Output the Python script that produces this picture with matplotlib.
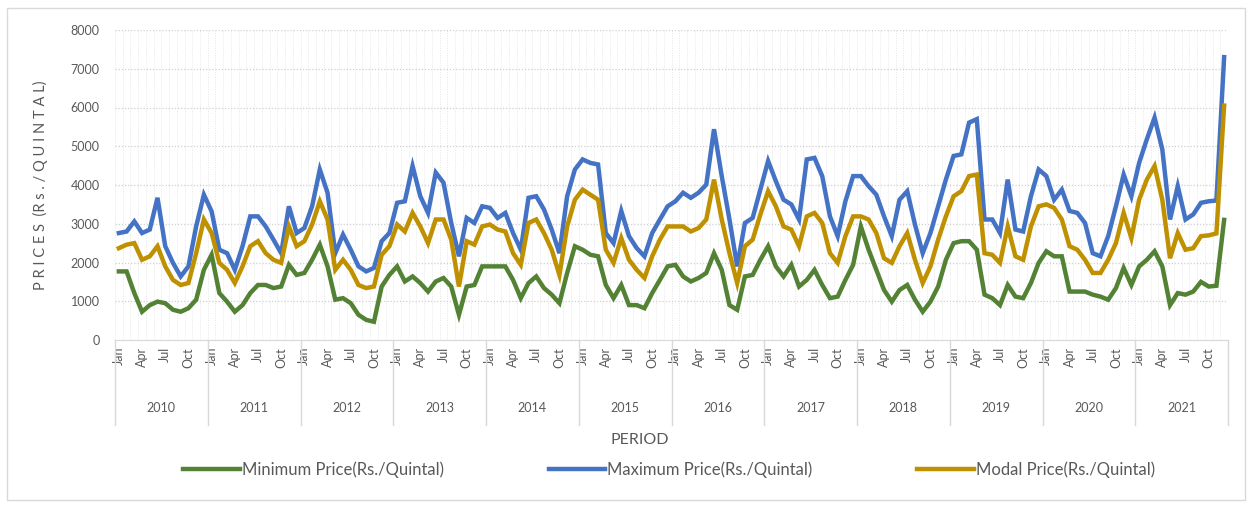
import numpy as np
import matplotlib
matplotlib.use("Agg")
import matplotlib.pyplot as plt
from matplotlib.patches import Rectangle
from matplotlib.lines import Line2D

plt.rcParams['font.family'] = ['Lato', 'DejaVu Sans']

years = ['2010', '2011', '2012', '2013', '2014', '2015',
         '2016', '2017', '2018', '2019', '2020', '2021']
months = ['Jan', 'Feb', 'Mar', 'Apr', 'May', 'Jun',
          'Jul', 'Aug', 'Sep', 'Oct', 'Nov', 'Dec']

# monthly prices, Jan 2010 .. Dec 2021 (Rs./Quintal)
min_price = [
    1770, 1770, 1210, 730, 900, 990, 950, 780, 730, 820, 1040, 1810,
    2200, 1210, 990, 730, 900, 1210, 1420, 1420, 1340, 1380, 1940, 1680,
    1730, 2070, 2460, 1900, 1040, 1080, 950, 650, 520, 470, 1380, 1680,
    1900, 1510, 1640, 1470, 1250, 1510, 1600, 1380, 650, 1380, 1420, 1900,
    1900, 1900, 1900, 1550, 1080, 1470, 1640, 1340, 1170, 950, 1730, 2420,
    2330, 2200, 2160, 1420, 1080, 1420, 900, 900, 820, 1210, 1550, 1900,
    1940, 1640, 1510, 1600, 1730, 2240, 1810, 900, 780, 1640, 1680, 2070,
    2420, 1900, 1640, 1940, 1380, 1550, 1810, 1420, 1080, 1120, 1550, 1940,
    2930, 2330, 1810, 1290, 990, 1290, 1420, 1040, 730, 990, 1380, 2070,
    2500, 2550, 2550, 2330, 1170, 1080, 900, 1420, 1120, 1080, 1470, 1990,
    2290, 2160, 2160, 1250, 1250, 1250, 1170, 1120, 1040, 1340, 1860, 1420,
    1900, 2070, 2290, 1900, 900, 1210, 1170, 1250, 1500, 1380, 1400, 3100,
]
max_price = [
    2760, 2800, 3060, 2760, 2850, 3670, 2420, 1990, 1640, 1900, 2930, 3750,
    3320, 2330, 2240, 1810, 2420, 3190, 3190, 2930, 2590, 2240, 3450, 2760,
    2890, 3450, 4400, 3800, 2240, 2720, 2330, 1900, 1770, 1860, 2550, 2760,
    3540, 3580, 4490, 3710, 3280, 4320, 4060, 3020, 2160, 3150, 3020, 3450,
    3410, 3150, 3280, 2760, 2330, 3670, 3710, 3370, 2850, 2240, 3710, 4400,
    4660, 4570, 4530, 2760, 2500, 3330, 2680, 2370, 2160, 2760, 3110, 3450,
    3580, 3800, 3670, 3800, 4010, 5440, 4230, 3110, 1900, 3020, 3150, 3880,
    4620, 4100, 3620, 3500, 3110, 4660, 4700, 4230, 3190, 2680, 3580, 4230,
    4230, 3970, 3750, 3190, 2680, 3620, 3840, 2980, 2240, 2760, 3450, 4140,
    4750, 4790, 5610, 5700, 3110, 3110, 2760, 4140, 2850, 2800, 3710, 4400,
    4230, 3620, 3880, 3330, 3280, 3020, 2240, 2160, 2680, 3450, 4270, 3710,
    4570, 5180, 5740, 4920, 3110, 3970, 3110, 3240, 3540, 3580, 3600, 7300,
]
modal_price = [
    2370, 2460, 2500, 2070, 2160, 2420, 1900, 1550, 1420, 1470, 2240, 3110,
    2760, 1990, 1810, 1470, 1900, 2420, 2550, 2240, 2070, 1990, 2930, 2420,
    2550, 2980, 3580, 3110, 1810, 2070, 1810, 1420, 1340, 1380, 2200, 2420,
    2980, 2800, 3280, 2930, 2500, 3110, 3110, 2590, 1380, 2550, 2460, 2930,
    2980, 2850, 2800, 2240, 1940, 3020, 3110, 2760, 2330, 1680, 2930, 3620,
    3880, 3750, 3620, 2330, 1990, 2630, 2070, 1810, 1600, 2160, 2590, 2930,
    2930, 2930, 2800, 2890, 3110, 4140, 3110, 2240, 1470, 2420, 2590, 3240,
    3840, 3450, 2930, 2850, 2420, 3190, 3280, 3020, 2240, 1990, 2680, 3190,
    3190, 3110, 2760, 2110, 1990, 2420, 2760, 2070, 1470, 1900, 2590, 3190,
    3710, 3840, 4230, 4270, 2240, 2200, 1990, 2930, 2160, 2070, 2930, 3450,
    3500, 3410, 3110, 2420, 2330, 2070, 1730, 1730, 2070, 2500, 3280, 2630,
    3620, 4140, 4490, 3620, 2110, 2760, 2330, 2370, 2680, 2700, 2750, 6050,
]

series = [
    ('Minimum Price(Rs./Quintal)', min_price, '#548235'),
    ('Maximum Price(Rs./Quintal)', max_price, '#4472C4'),
    ('Modal Price(Rs./Quintal)', modal_price, '#BF9000'),
]

n = len(years) * 12
x = np.arange(n)

fig = plt.figure(figsize=(12.53, 5.08), dpi=100)
ax = fig.add_axes([115 / 1253, 1 - 340 / 508, (1228 - 115) / 1253, (340 - 30) / 508])

for label, vals, col in series:
    ax.plot(x, vals, color=col, lw=3.2, label=label, solid_joinstyle='miter')

ax.set_xlim(-0.5, n - 0.5)
ax.set_ylim(0, 8000)
ax.set_yticks(range(0, 8001, 1000))
ax.tick_params(axis='y', length=0, labelsize=9, labelcolor='#595959', pad=11)

# gridlines: dotted, one per 1000 and one per month
ax.set_xticks(np.arange(-0.5, n, 1), minor=True)
ax.grid(axis='y', which='major', color='#d0d0d0', ls=(0, (1, 1.5)), lw=0.9)
ax.grid(axis='x', which='minor', color='#e6e6e6', ls=(0, (1, 1.5)), lw=0.7)
ax.tick_params(axis='x', which='minor', length=0)
ax.set_axisbelow(True)

for s in ['top', 'right', 'left']:
    ax.spines[s].set_visible(False)
ax.spines['bottom'].set_color('#d9d9d9')

# quarterly month labels
tick_pos = [i for i in x if i % 12 in (0, 3, 6, 9)]
ax.set_xticks(tick_pos)
ax.set_xticklabels([months[i % 12] for i in tick_pos], rotation=90,
                   fontsize=9, color='#595959')
ax.tick_params(axis='x', which='major', length=0, pad=5)

# year group labels and separators under the axis
trans = ax.get_xaxis_transform()
for k, yr in enumerate(years):
    ax.text(k * 12 + 5.5, -0.22, yr, transform=trans, ha='center', va='center',
            fontsize=9, color='#595959')
for k in range(len(years) + 1):
    ax.add_line(Line2D([k * 12 - 0.5, k * 12 - 0.5], [0, -0.275], transform=trans,
                       color='#d9d9d9', lw=1, clip_on=False))

ax.set_ylabel('P R I C E S  (R s . / Q U I N T A L)', fontsize=10.5,
              color='#595959', labelpad=16)
fig.text(640 / 1253, 1 - 440 / 508, 'PERIOD', ha='center', va='center',
         fontsize=11.5, color='#595959')

fig.legend(loc='center', bbox_to_anchor=(669 / 1253, 1 - 470 / 508), ncol=3,
           frameon=False, fontsize=12, handlelength=3.4, handletextpad=0.1,
           columnspacing=6.3, labelcolor='#595959')

fig.patches.append(Rectangle((7 / 1253, 8 / 508), 1238 / 1253, 492 / 508,
                             transform=fig.transFigure, fill=False,
                             edgecolor='#d9d9d9', lw=1))

fig.savefig('out.png', dpi=100)
